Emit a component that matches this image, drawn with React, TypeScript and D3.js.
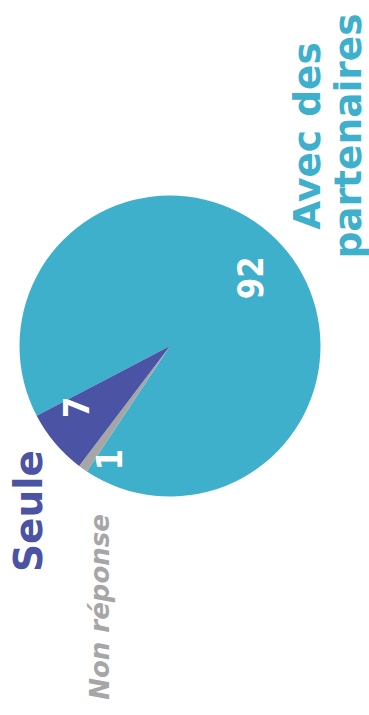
import React from "react";
import * as d3 from "d3";

const categories = ["Avec des partenaires", "Non réponse", "Seule"];
const values = [92, 1, 7];
const colors = ["#3eb0cc", "#a6a6a6", "#4a53a4"];
// legend text lines per category
const legendLines = [["Avec des", "partenaires"], ["Non réponse"], ["Seule"]];

const W = 369;
const H = 715;
const CX = 170;
const CY = 346;
const R = 150.5;
const START_DEG = 242.35;

// value label placement (polar: angle shift in degrees, radius)
const valueLabelPlacement = [
  { shift: 1.5, r: 105 },
  { shift: -7, r: 129 },
  { shift: 7, r: 112 },
];

// category legend placement (baseline x, centre y), rotated text
const legendPlacement = [
  { x: [320, 361], y: 136, size: 37.5, italic: false },
  { x: [109], y: 607, size: 26, italic: true },
  { x: [41.5], y: 511, size: 39, italic: false },
];

export default function App() {
  const rad = (d: number) => (d * Math.PI) / 180;
  const pie = d3
    .pie<number>()
    .sort(null)
    .value((d) => d)
    .startAngle(rad(START_DEG))
    .endAngle(rad(START_DEG + 360));
  const arcs = pie(values);
  const arc = d3.arc<d3.PieArcDatum<number>>().innerRadius(0).outerRadius(R);

  return (
    <svg
      width={W}
      height={H}
      style={{ position: "absolute", left: 0, top: 0, background: "#fff" }}
      fontFamily="'DejaVu Sans', sans-serif"
    >
      <g transform={`translate(${CX},${CY})`}>
        {arcs.map((a, i) => (
          <path key={categories[i]} d={arc(a) || ""} fill={colors[i]} />
        ))}
        {arcs.map((a, i) => {
          const p = valueLabelPlacement[i];
          const mid = (a.startAngle + a.endAngle) / 2 + rad(p.shift);
          const x = Math.sin(mid) * p.r;
          const y = -Math.cos(mid) * p.r;
          return (
            <text
              key={"v" + i}
              transform={`translate(${x},${y}) rotate(-90) scale(0.88,1)`}
              textAnchor="middle"
              dy="0.365em"
              fill="#ffffff"
              fontWeight="bold"
              fontSize={35}
            >
              {values[i]}
            </text>
          );
        })}
      </g>
      {legendLines.map((lines, i) => {
        const p = legendPlacement[i];
        return lines.map((line, j) => (
          <text
            key={`l${i}-${j}`}
            transform={`translate(${p.x[j]},${p.y}) rotate(-90)`}
            textAnchor="middle"
            fill={colors[i]}
            fontWeight="bold"
            fontStyle={p.italic ? "italic" : "normal"}
            fontSize={p.size}
          >
            {line}
          </text>
        ));
      })}
    </svg>
  );
}
